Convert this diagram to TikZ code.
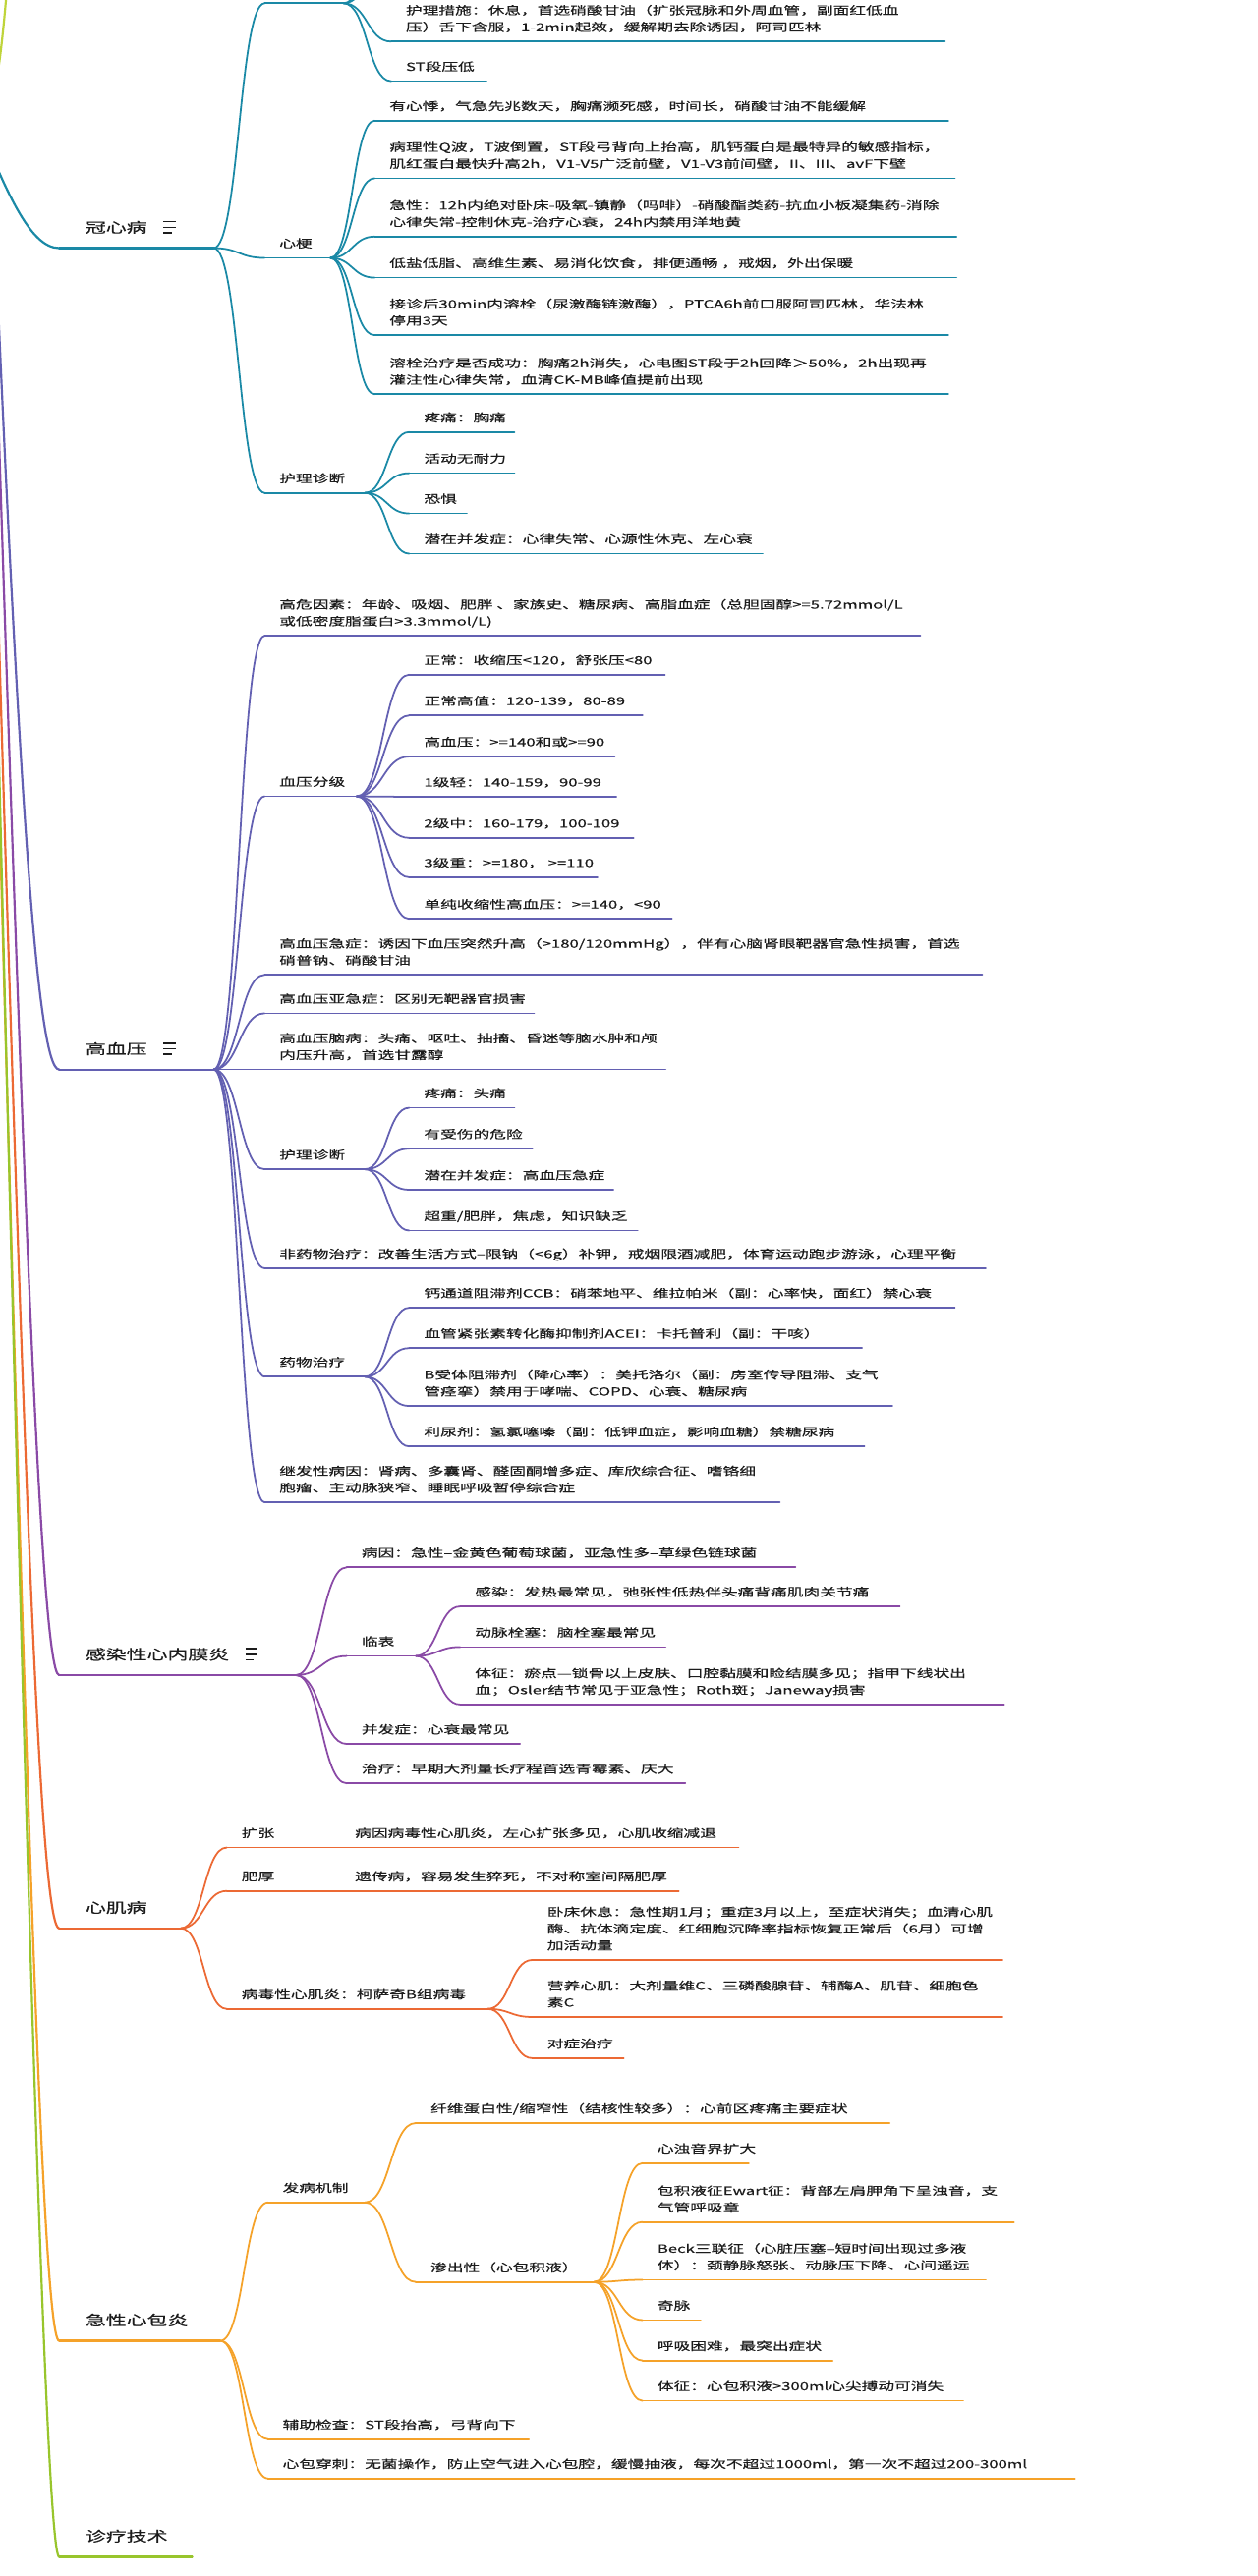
\documentclass[tikz,border=0pt]{standalone}
\usepackage{fontspec}
\setmainfont{Noto Sans CJK SC}[FakeStretch=1.47,FakeBold=0.4]
\usetikzlibrary{calc}

\definecolor{cTeal}{HTML}{1A89A6}
\definecolor{cIndigo}{HTML}{6360B2}
\definecolor{cPurple}{HTML}{8A4AA6}
\definecolor{cCoral}{HTML}{EC6934}
\definecolor{cAmber}{HTML}{F5A229}
\definecolor{cLime}{HTML}{98C52C}
\definecolor{cYellowGreen}{HTML}{BFD43A}
\definecolor{cText}{HTML}{1C1C1C}

\tikzset{
  ul/.style={line width=1.05pt, line cap=round},
  mainul/.style={line width=1.3pt, line cap=round},
  lbl/.style={anchor=south west, inner sep=0pt, outer sep=0pt, text depth=2pt,
    align=left, text=cText, font=\fontsize{6.8}{10.2}\selectfont},
  mainlbl/.style={anchor=south west, inner sep=0pt, outer sep=0pt, text depth=2pt,
    align=left, text=cText, font=\fontsize{8.5}{11}\selectfont},
  br/.style={to path={let \p1=(\tikztostart), \p2=(\tikztotarget) in
    .. controls ({(\x1+\x2)/2},\y1) and ({(\x1+\x2)/2},\y2) .. (\tikztotarget)}},
  noteicon/.pic={\draw[line width=0.9pt, cText] (0,-3.4) -- (7.5,-3.4) (0,0) -- (7.5,0) (0,3.4) -- (5,3.4);}
}

% #1 name, #2 left x, #3 right x, #4 underline y, #5 text
\newcommand\mmleaf[5]{%
  \coordinate (#1-l) at (#2,#4);
  \coordinate (#1-r) at (#3,#4);
  \draw[ul] (#1-l) -- (#1-r);
  \node[lbl] (#1) at ($(#1-l)+(9,-4.3)$) {#5};
}
\newcommand\mmmain[5]{%
  \coordinate (#1-l) at (#2,#4);
  \coordinate (#1-r) at (#3,#4);
  \draw[mainul] (#1-l) -- (#1-r);
  \node[mainlbl] (#1) at ($(#1-l)+(16,-7.4)$) {#5};
}

\begin{document}
\begin{tikzpicture}[x=1pt,y=-1pt]
\useasboundingbox (0,0) rectangle (765,1568);
\fill[white] (0,0) rectangle (765,1568);
\clip (0,0) rectangle (765,1568);

% ---------- trunk lines coming in from the root at the left ----------
\coordinate (rootA) at (-6,70);
\coordinate (upA) at (4,-4);
\draw[mainul, cYellowGreen] (rootA) .. controls (0,42) and (2,18) .. (upA);

% ================= 冠心病 =================
\begin{scope}[color=cTeal]
\mmmain{gxb}{36}{130}{151}{冠心病}
\pic at ($(gxb.base east)+(10,-3.2)$) {noteicon};
\coordinate (tA) at (-15,70);
\draw[mainul] (tA) .. controls (3,115) and (18,151) .. (gxb-l);

% 心绞痛 (its title lies above the top edge)
\coordinate (xjt-l) at (161,2);
\coordinate (xjt-r) at (209,2);
\draw[ul] (xjt-l) -- (xjt-r);
\coordinate (xjt-up1) at (238,-26);
\coordinate (xjt-up2) at (238,-52);
\mmleaf{xjt1}{238}{575}{25.3}{护理措施：休息，首选硝酸甘油（扩张冠脉和外周血管，副面红低血\\压）舌下含服，1-2min起效，缓解期去除诱因，阿司匹林}
\mmleaf{xjt2}{238}{296}{49.4}{ST段压低}

\mmleaf{xg}{161}{201}{157}{心梗}
\mmleaf{xg1}{228}{577}{73.4}{有心悸，气急先兆数天，胸痛濒死感，时间长，硝酸甘油不能缓解}
\mmleaf{xg2}{228}{581}{108.5}{病理性Q波，T波倒置，ST段弓背向上抬高，肌钙蛋白是最特异的敏感指标，\\肌红蛋白最快升高2h，V1-V5广泛前壁，V1-V3前间壁，II、III、avF下壁}
\mmleaf{xg3}{228}{582}{144}{急性：12h内绝对卧床-吸氧-镇静（吗啡）-硝酸酯类药-抗血小板凝集药-消除\\心律失常-控制休克-治疗心衰，24h内禁用洋地黄}
\mmleaf{xg4}{228}{582}{169}{低盐低脂、高维生素、易消化饮食，排便通畅 ，戒烟，外出保暖}
\mmleaf{xg5}{228}{577}{204}{接诊后30min内溶栓（尿激酶链激酶），PTCA6h前口服阿司匹林，华法林\\停用3天}
\mmleaf{xg6}{228}{577}{240}{溶栓治疗是否成功：胸痛2h消失，心电图ST段于2h回降＞50\%，2h出现再\\灌注性心律失常，血清CK-MB峰值提前出现}

\mmleaf{hl}{161}{222}{300}{护理诊断}
\mmleaf{hl1}{249}{313}{263}{疼痛：胸痛}
\mmleaf{hl2}{249}{313}{288}{活动无耐力}
\mmleaf{hl3}{249}{284}{312.5}{恐惧}
\mmleaf{hl4}{249}{464}{337}{潜在并发症：心律失常、心源性休克、左心衰}

\foreach \c in {xjt,xg,hl} \draw[ul] (gxb-r) to[br] (\c-l);
\foreach \c in {xjt1,xjt2} \draw[ul] (xjt-r) to[br] (\c-l);
\foreach \c in {xjt-up1,xjt-up2} \draw[ul] (xjt-r) to[br] (\c);
\foreach \c in {xg1,xg2,xg3,xg4,xg5,xg6} \draw[ul] (xg-r) to[br] (\c-l);
\foreach \c in {hl1,hl2,hl3,hl4} \draw[ul] (hl-r) to[br] (\c-l);
\end{scope}

% ================= 高血压 =================
\begin{scope}[color=cIndigo]
\mmmain{gxy}{36}{130}{651}{高血压}
\pic at ($(gxy.base east)+(10,-3.2)$) {noteicon};
\coordinate (tB) at (-9,0);
\draw[mainul] (tB) .. controls (10,470) and (22,651) .. (gxy-l);

\mmleaf{g1}{161}{560}{387}{高危因素：年龄、吸烟、肥胖 、家族史、糖尿病、高脂血症（总胆固醇>=5.72mmol/L\\或低密度脂蛋白>3.3mmol/L)}
\mmleaf{g2}{161}{217}{484.7}{血压分级}
\mmleaf{g2a}{249}{404.6}{410.7}{正常：收缩压<120，舒张压<80}
\mmleaf{g2b}{249}{391}{435.5}{正常高值：120-139，80-89}
\mmleaf{g2c}{249}{374}{460.5}{高血压：>=140和或>=90}
\mmleaf{g2d}{249}{375}{485}{1级轻：140-159，90-99}
\mmleaf{g2e}{249}{385.5}{510}{2级中：160-179，100-109}
\mmleaf{g2f}{249}{363.6}{534}{3级重：>=180， >=110}
\mmleaf{g2g}{249}{408.8}{559.3}{单纯收缩性高血压：>=140，<90}
\mmleaf{g3}{161}{597.7}{593.4}{高血压急症：诱因下血压突然升高（>180/120mmHg），伴有心脑肾眼靶器官急性损害，首选\\硝普钠、硝酸甘油}
\mmleaf{g4}{161}{325}{616.8}{高血压亚急症：区别无靶器官损害}
\mmleaf{g5}{161}{405}{651}{高血压脑病：头痛、呕吐、抽搐、昏迷等脑水肿和颅\\内压升高，首选甘露醇}
\mmleaf{g6}{161}{222}{711.7}{护理诊断}
\mmleaf{g6a}{249}{313}{674.3}{疼痛：头痛}
\mmleaf{g6b}{249}{324}{699.2}{有受伤的危险}
\mmleaf{g6c}{249}{373.2}{724.2}{潜在并发症：高血压急症}
\mmleaf{g6d}{249}{388}{749}{超重/肥胖，焦虑，知识缺乏}
\mmleaf{g7}{161}{599.8}{772}{非药物治疗：改善生活方式–限钠（<6g）补钾，戒烟限酒减肥，体育运动跑步游泳，心理平衡}
\mmleaf{g8}{161}{222}{838}{药物治疗}
\mmleaf{g8a}{249}{581}{796}{钙通道阻滞剂CCB：硝苯地平、维拉帕米（副：心率快，面红）禁心衰}
\mmleaf{g8b}{249}{524.5}{820.6}{血管紧张素转化酶抑制剂ACEI：卡托普利（副：干咳）}
\mmleaf{g8c}{249}{543}{855.8}{B受体阻滞剂（降心率）：美托洛尔（副：房室传导阻滞、支气\\管痉挛）禁用于哮喘、COPD、心衰、糖尿病}
\mmleaf{g8d}{249}{526}{880.4}{利尿剂：氢氯噻嗪（副：低钾血症，影响血糖）禁糖尿病}
\mmleaf{g9}{161}{474.5}{914.4}{继发性病因：肾病、多囊肾、醛固酮增多症、库欣综合征、嗜铬细\\胞瘤、主动脉狭窄、睡眠呼吸暂停综合症}

\foreach \c in {g1,g2,g3,g4,g5,g6,g7,g8,g9} \draw[ul] (gxy-r) to[br] (\c-l);
\foreach \c in {g2a,g2b,g2c,g2d,g2e,g2f,g2g} \draw[ul] (g2-r) to[br] (\c-l);
\foreach \c in {g6a,g6b,g6c,g6d} \draw[ul] (g6-r) to[br] (\c-l);
\foreach \c in {g8a,g8b,g8c,g8d} \draw[ul] (g8-r) to[br] (\c-l);
\end{scope}

% ================= 感染性心内膜炎 =================
\begin{scope}[color=cPurple]
\mmmain{gr}{36}{180}{1019.6}{感染性心内膜炎}
\pic at ($(gr.base east)+(10,-3.2)$) {noteicon};
\coordinate (tC) at (-9,0);
\draw[mainul] (tC) .. controls (11.6,663) and (24,1019.6) .. (gr-l);

\mmleaf{r1}{211}{484}{954}{病因：急性–金黄色葡萄球菌，亚急性多–草绿色链球菌}
\mmleaf{r2}{211}{253}{1008}{临表}
\mmleaf{r2a}{280}{547.5}{977.8}{感染：发热最常见，弛张性低热伴头痛背痛肌肉关节痛}
\mmleaf{r2b}{280}{405}{1002.5}{动脉栓塞：脑栓塞最常见}
\mmleaf{r2c}{280}{611}{1037.5}{体征：瘀点—锁骨以上皮肤、口腔黏膜和睑结膜多见；指甲下线状出\\血；Osler结节常见于亚急性；Roth斑；Janeway损害}
\mmleaf{r3}{211}{316.4}{1061.5}{并发症：心衰最常见}
\mmleaf{r4}{211}{417}{1085.5}{治疗：早期大剂量长疗程首选青霉素、庆大}

\foreach \c in {r1,r2,r3,r4} \draw[ul] (gr-r) to[br] (\c-l);
\foreach \c in {r2a,r2b,r2c} \draw[ul] (r2-r) to[br] (\c-l);
\end{scope}

% ================= 心肌病 =================
\begin{scope}[color=cCoral]
\mmmain{xjb}{36}{110}{1173.7}{心肌病}
\coordinate (tD) at (-12,0);
\draw[mainul] (tD) .. controls (10.2,763) and (22,1173.7) .. (xjb-l);

\mmleaf{k1}{138}{180}{1124.6}{扩张}
\mmleaf{k1a}{207}{449.4}{1124.6}{病因病毒性心肌炎，左心扩张多见，心肌收缩减退}
\mmleaf{k2}{138}{180}{1151}{肥厚}
\mmleaf{k2a}{207}{413}{1151}{遗传病，容易发生猝死，不对称室间隔肥厚}
\mmleaf{k3}{138}{296.7}{1222.8}{病毒性心肌炎：柯萨奇B组病毒}
\mmleaf{k3a}{324}{610}{1193}{卧床休息：急性期1月；重症3月以上，至症状消失；血清心肌\\酶、抗体滴定度、红细胞沉降率指标恢复正常后（6月）可增\\加活动量}
\mmleaf{k3b}{324}{610}{1227.7}{营养心肌：大剂量维C、三磷酸腺苷、辅酶A、肌苷、细胞色\\素C}
\mmleaf{k3c}{324}{379.5}{1252.8}{对症治疗}

\foreach \c in {k1,k2,k3} \draw[ul] (xjb-r) to[br] (\c-l);
\draw[ul] (k1-r) to[br] (k1a-l);
\draw[ul] (k2-r) to[br] (k2a-l);
\foreach \c in {k3a,k3b,k3c} \draw[ul] (k3-r) to[br] (\c-l);
\end{scope}

% ================= 急性心包炎 =================
\begin{scope}[color=cAmber]
\mmmain{jx}{36}{134}{1424.8}{急性心包炎}
\coordinate (tE) at (-13.7,0);
\draw[mainul] (tE) .. controls (11.3,926) and (24,1424.8) .. (jx-l);

\mmleaf{j1}{163}{222}{1340.6}{发病机制}
\mmleaf{j1a}{253}{541.3}{1292.3}{纤维蛋白性/缩窄性（结核性较多）：心前区疼痛主要症状}
\mmleaf{j1b}{253}{361.5}{1389}{渗出性（心包积液）}
\mmleaf{j1b1}{391}{455.6}{1316.7}{心浊音界扩大}
\mmleaf{j1b2}{391}{617}{1352.5}{包积液征Ewart征：背部左肩胛角下呈浊音，支\\气管呼吸章}
\mmleaf{j1b3}{391}{599.8}{1387.7}{Beck三联征（心脏压塞–短时间出现过多液\\体）：颈静脉怒张、动脉压下降、心间遥远}
\mmleaf{j1b4}{391}{426.3}{1412.2}{奇脉}
\mmleaf{j1b5}{391}{506.6}{1436.8}{呼吸困难，最突出症状}
\mmleaf{j1b6}{391}{586}{1461.3}{体征：心包积液>300ml心尖搏动可消失}
\mmleaf{j2}{163}{321.8}{1484.7}{辅助检查：ST段抬高，弓背向下}
\mmleaf{j3}{163}{654}{1508.6}{心包穿刺：无菌操作，防止空气进入心包腔，缓慢抽液，每次不超过1000ml，第一次不超过200-300ml}

\foreach \c in {j1,j2,j3} \draw[ul] (jx-r) to[br] (\c-l);
\foreach \c in {j1a,j1b} \draw[ul] (j1-r) to[br] (\c-l);
\foreach \c in {j1b1,j1b2,j1b3,j1b4,j1b5,j1b6} \draw[ul] (j1b-r) to[br] (\c-l);
\end{scope}

% ================= 诊疗技术 =================
\begin{scope}[color=cLime]
\mmmain{zl}{36}{117}{1556.3}{诊疗技术}
\coordinate (tF) at (-11.5,0);
\draw[mainul] (tF) .. controls (11.8,1011) and (27,1556.3) .. (zl-l);
\end{scope}

\end{tikzpicture}
\end{document}
